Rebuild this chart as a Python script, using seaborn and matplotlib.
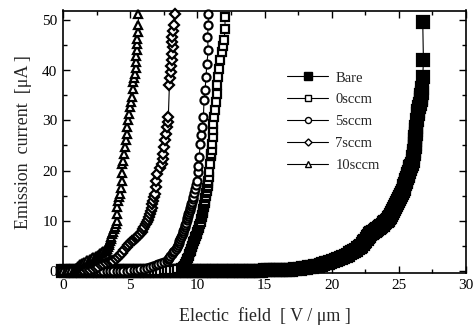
import matplotlib
matplotlib.use("Agg")
import matplotlib.pyplot as plt
from matplotlib.ticker import MultipleLocator
from matplotlib.lines import Line2D
import seaborn as sns
import pandas as pd

# ---- data ----
bare_x = [0, 0.25, 0.5, 0.75, 1, 1.25, 1.5, 1.75, 2, 2.25, 2.5, 2.75, 3, 3.25, 3.5, 3.75,
          4, 4.25, 4.5, 4.75, 5, 5.25, 5.5, 5.75, 6, 6.25, 6.5, 6.75, 7, 7.25, 7.5, 7.75,
          8, 8.25, 8.5, 8.75, 9, 9.25, 9.5, 9.75, 10, 10.25, 10.5, 10.75, 11, 11.25, 11.5,
          11.75, 12, 12.25, 12.5, 12.75, 13, 13.25, 13.5, 13.75, 14, 14.25, 14.5, 14.75,
          15, 15.25, 15.5, 15.75, 16, 16.25, 16.5, 16.75, 17, 17.3,
          17.65, 17.9, 18.1, 18.3, 18.5, 18.75, 19.0, 19.2, 19.38, 19.55, 19.75, 19.9,
          20.1, 20.3, 20.5, 20.7, 20.87, 21.05, 21.2, 21.35, 21.5, 21.65, 21.8, 21.95,
          22.11, 22.2, 22.3, 22.4, 22.5, 22.6, 22.7, 22.78, 22.86, 22.93, 23.0, 23.1, 23.2,
          23.3, 23.4, 23.5, 23.6, 23.7, 23.8, 23.9, 24.0, 24.1, 24.2, 24.28, 24.35, 24.42,
          24.5, 24.58, 24.65, 24.72, 24.8, 24.88, 24.97, 25.03, 25.1, 25.15, 25.2, 25.28,
          25.35, 25.41, 25.47, 25.51, 25.55, 25.6, 25.65, 25.7, 25.75, 25.8, 25.84, 25.9,
          25.96, 26.02, 26.08, 26.11, 26.14, 26.17, 26.2, 26.22, 26.24, 26.26, 26.28, 26.3,
          26.33, 26.4, 26.45, 26.52, 26.58, 26.62, 26.65, 26.68, 26.7, 26.75, 26.78,
          26.83, 26.78]
bare_y = [0, 0, 0, 0, 0, 0, 0, 0, 0, 0, 0, 0, 0, 0, 0, 0,
          0, 0, 0, 0, 0, 0, 0, 0, 0, 0, 0, 0, 0, 0, 0, 0,
          0, 0, 0, 0, 0, 0, 0, 0, 0, 0, 0, 0, 0, 0, 0,
          0, 0, 0, 0, 0, 0, 0, 0, 0, 0, 0, 0, 0,
          0.05, 0.05, 0.05, 0.05, 0.1, 0.1, 0.1, 0.15, 0.2, 0.25,
          0.3, 0.45, 0.55, 0.7, 0.8, 0.9, 1.0, 1.15, 1.3, 1.45, 1.6, 1.8,
          2.0, 2.15, 2.3, 2.5, 2.7, 2.95, 3.2, 3.45, 3.7, 3.95, 4.2, 4.45,
          4.7, 5.0, 5.3, 5.65, 6.0, 6.35, 6.7, 7.0, 7.3, 7.45, 7.6, 7.8, 8.0,
          8.15, 8.3, 8.5, 8.7, 8.95, 9.2, 9.45, 9.7, 9.95, 10.2, 10.45, 10.7, 11.1,
          11.5, 11.9, 12.3, 12.7, 13.1, 13.55, 14.0, 14.4, 14.8, 15.2, 15.6, 16.0,
          16.4, 16.85, 17.3, 17.7, 18.1, 18.55, 19.0, 19.4, 19.8, 20.25, 20.7, 21.0,
          21.3, 22.0, 22.6, 23.3, 23.9, 24.6, 25.3, 26.0, 26.6, 27.3, 28.0, 28.7,
          30.0, 31.3, 31.9, 32.6, 33.3, 34.0, 34.5, 35.0, 35.5, 36.5, 38.7,
          42.0, 49.7]

s0_x = [0, 0.25, 0.5, 0.75, 1, 1.25, 1.5, 1.75, 2, 2.25, 2.5, 2.75, 3, 3.25, 3.5, 3.75,
        4, 4.25, 4.5, 4.75, 5, 5.25, 5.5, 5.75, 6, 6.25, 6.5, 6.75, 7, 7.25, 7.5, 7.75,
        8.0, 8.25, 8.5, 8.75, 8.96, 9.03, 9.1, 9.16, 9.21, 9.26, 9.3, 9.35, 9.4, 9.45,
        9.5, 9.54, 9.58, 9.63, 9.67, 9.71, 9.75, 9.8, 9.85, 9.9, 9.95, 10.0, 10.05,
        10.1, 10.15, 10.2, 10.25, 10.29, 10.33, 10.37, 10.4, 10.42, 10.45, 10.48, 10.52,
        10.55, 10.57, 10.6, 10.64, 10.67, 10.7, 10.73, 10.76, 10.79, 10.82, 10.86, 10.9,
        10.95, 11.0, 11.04, 11.07, 11.1, 11.14, 11.17, 11.19, 11.26, 11.32, 11.38,
        11.44, 11.5, 11.57, 11.63, 11.69, 11.82, 11.9, 11.99, 12.06, 12.06]
s0_y = [0, 0, 0, 0, 0, 0, 0, 0, 0, 0, 0, 0, 0, 0, 0, 0,
        0, 0, 0, 0, 0, 0, 0, 0, 0, 0, 0, 0, 0, 0, 0.02, 0.05,
        0.1, 0.2, 0.3, 0.5, 0.7, 1.0, 1.3, 1.65, 2.0, 2.3, 2.6, 2.95, 3.3, 3.65,
        4.0, 4.35, 4.7, 5.0, 5.3, 5.65, 6.0, 6.35, 6.7, 7.0, 7.3, 7.75, 8.2,
        8.6, 9.0, 9.4, 9.8, 10.25, 10.7, 11.1, 11.5, 11.9, 12.3, 12.75, 13.2,
        13.6, 14.0, 14.5, 15.0, 15.5, 16.0, 16.5, 17.0, 17.5, 18.0, 18.8, 19.7,
        21.3, 22.8, 23.4, 24.0, 25.3, 26.7, 28.0, 29.3, 30.7, 32.0, 33.7,
        35.3, 37.0, 38.7, 40.3, 42.0, 43.7, 44.8, 46.0, 48.3, 50.7]

s5_x = [0, 0.25, 0.5, 0.75, 1, 1.25, 1.5, 1.75, 2, 2.25, 2.5, 2.75, 3, 3.25, 3.5, 3.75,
        4, 4.25, 4.5, 4.75, 5, 5.25, 5.5, 5.75, 6.0, 6.25, 6.48, 6.7, 6.9, 7.1, 7.3,
        7.5, 7.72, 7.82, 7.9, 8.0, 8.1, 8.2, 8.3, 8.4, 8.47, 8.54, 8.6, 8.65, 8.7,
        8.77, 8.83, 8.9, 8.96, 9.0, 9.05, 9.1, 9.15, 9.2, 9.25, 9.29, 9.33, 9.38,
        9.42, 9.46, 9.5, 9.55, 9.6, 9.65, 9.7, 9.76, 9.82, 9.88, 9.95, 10.02, 10.08,
        10.15, 10.2, 10.27, 10.33, 10.45, 10.5, 10.57, 10.65, 10.7, 10.82, 10.75,
        10.82, 10.82]
s5_y = [0, 0, 0, 0, 0, 0, 0, 0, 0, 0, 0, 0, 0, 0, 0, 0,
        0, 0, 0, 0, 0.05, 0.1, 0.2, 0.3, 0.4, 0.55, 0.7, 0.95, 1.2, 1.4, 1.6,
        1.8, 2.0, 2.3, 2.6, 2.95, 3.3, 3.65, 4.0, 4.35, 4.7, 5.1, 5.5, 5.9, 6.3,
        6.75, 7.2, 7.6, 8.0, 8.4, 8.8, 9.2, 9.6, 10.05, 10.5, 10.9, 11.3, 11.75,
        12.2, 12.6, 13.0, 13.4, 13.8, 14.25, 14.7, 15.5, 16.3, 17.2, 18.0, 19.6, 21.0,
        22.7, 25.3, 27.0, 28.7, 30.7, 34.0, 36.0, 38.7, 41.3, 44.0, 46.7,
        49.0, 51.3]

s7_x = [0, 0.25, 0.5, 0.75, 1.0, 1.25, 1.5, 1.75, 2.0, 2.26, 2.45, 2.6, 2.8, 3.0, 3.2,
        3.4, 3.6, 3.75, 3.95, 4.1, 4.25, 4.4, 4.55, 4.74, 4.87, 5.0, 5.15, 5.3, 5.4,
        5.5, 5.62, 5.73, 5.85, 5.95, 6.05, 6.15, 6.22, 6.3, 6.4, 6.48, 6.54, 6.6,
        6.66, 6.72, 6.78, 6.85, 6.9, 6.95, 6.98, 7.2, 7.35, 7.41, 7.47, 7.53, 7.6,
        7.66, 7.72, 7.78, 7.84, 7.92, 7.98, 8.04, 8.07, 8.09, 8.13, 8.17, 8.13,
        8.09, 8.18, 8.27, 8.34]
s7_y = [0, 0, 0, 0, 0.02, 0.05, 0.08, 0.12, 0.2, 0.3, 0.55, 0.8, 1.05, 1.3, 1.5,
        1.7, 1.85, 2.0, 2.4, 2.8, 3.2, 3.6, 4.1, 4.7, 5.1, 5.5, 5.85, 6.2, 6.45,
        6.7, 7.0, 7.3, 7.8, 8.3, 8.8, 9.3, 9.75, 10.2, 10.7, 11.3, 11.95, 12.6,
        13.3, 14.0, 14.65, 15.3, 16.6, 18.0, 19.3, 20.5, 21.3, 22.3, 23.3, 24.6, 26.0,
        27.3, 28.7, 29.7, 30.7, 37.0, 38.4, 39.7, 40.8, 42.0, 43.3, 44.7, 45.7,
        46.7, 47.8, 49.0, 51.3]

s10_x = [0, 0.2, 0.4, 0.6, 0.8, 1.0, 1.15, 1.27, 1.45, 1.6, 1.8, 2.0, 2.15, 2.26, 2.45,
         2.6, 2.75, 2.9, 3.0, 3.1, 3.18, 3.25, 3.33, 3.4, 3.45, 3.5, 3.55, 3.6, 3.68,
         3.75, 3.8, 3.85, 3.93, 4.0, 4.02, 4.04, 4.1, 4.17, 4.24, 4.3, 4.37, 4.37,
         4.37, 4.49, 4.55, 4.62, 4.68, 4.74, 4.8, 4.86, 4.92, 4.99, 5.05, 5.12, 5.18,
         5.24, 5.3, 5.36, 5.4, 5.44, 5.47, 5.49, 5.49, 5.49, 5.55, 5.61, 5.61]
s10_y = [0, 0, 0, 0.1, 0.2, 0.5, 0.9, 1.3, 1.6, 1.8, 2.1, 2.3, 2.5, 2.7, 3.0,
         3.2, 3.5, 3.7, 3.85, 4.0, 4.15, 4.3, 4.75, 5.2, 5.6, 6.0, 6.4, 6.8, 7.25,
         7.7, 8.25, 8.8, 9.4, 10.0, 11.3, 12.7, 14.0, 14.65, 15.3, 16.5, 18.0, 19.5,
         21.3, 22.0, 23.3, 24.7, 26.0, 27.3, 28.6, 30.0, 31.3, 32.7, 33.7, 34.7, 36.2,
         37.7, 38.5, 39.3, 40.5, 41.7, 42.8, 44.0, 45.2, 46.3, 47.7, 49.0, 51.3]

labels = ["Bare", "0sccm", "5sccm", "7sccm", "10sccm"]
xticks = [0, 5, 10, 15, 20, 25, 30]
yticks = [0, 10, 20, 30, 40, 50]

series = [(bare_x, bare_y), (s0_x, s0_y), (s5_x, s5_y), (s7_x, s7_y), (s10_x, s10_y)]
frames = []
for lab, (xs, ys) in zip(labels, series):
    frames.append(pd.DataFrame({"x": xs, "y": ys, "series": lab}))
df = pd.concat(frames, ignore_index=True)

# ---- styling ----
sns.set_style("ticks")
plt.rcParams["font.family"] = ["Liberation Serif", "DejaVu Serif"]

fig = plt.figure(figsize=(4.75, 3.31), dpi=100)
ax = fig.add_axes([63 / 475, 1 - 273 / 331, (466 - 63) / 475, (273 - 10.5) / 331])

styles = {
    "Bare":   dict(marker="s", mfc="black", ms=8.0),
    "0sccm":  dict(marker="s", mfc="white", ms=5.5),
    "5sccm":  dict(marker="o", mfc="white", ms=5.8),
    "7sccm":  dict(marker="D", mfc="white", ms=4.8),
    "10sccm": dict(marker="^", mfc="white", ms=5.8),
}

for lab in labels:
    sub = df[df["series"] == lab]
    st = styles[lab]
    sns.lineplot(data=sub, x="x", y="y", ax=ax, sort=False, estimator=None,
                 color="black", lw=0.8, marker=st["marker"], ms=st["ms"],
                 mfc=st["mfc"], mec="black", mew=1.6, clip_on=False, zorder=3)

ax.set_xlim(0, 30)
ax.set_ylim(-0.5, 52)
ax.set_xticks(xticks)
ax.set_yticks(yticks)
ax.xaxis.set_minor_locator(MultipleLocator(2.5))
ax.yaxis.set_minor_locator(MultipleLocator(5))
ax.tick_params(which="both", direction="in", top=True, right=True, width=1.0,
               labelsize=11, colors="black", pad=4)
ax.tick_params(which="major", length=5)
ax.tick_params(which="minor", length=3)
for sp in ax.spines.values():
    sp.set_linewidth(1.2)
    sp.set_color("black")

ax.set_xlabel("Electic  field  [ V / μm ]", fontsize=13, labelpad=11)
ax.set_ylabel("Emission  current  [μA ]", fontsize=13, labelpad=7)

leg_handles = []
for lab in labels:
    st = styles[lab]
    leg_handles.append(Line2D([], [], color="black", lw=0.8, marker=st["marker"],
                              ms=st["ms"] * 0.75, mfc=st["mfc"], mec="black", mew=1.0))
ax.legend(leg_handles, labels, loc="upper left", frameon=False,
          bbox_to_anchor=(280 / 475, 1 - 64 / 331), bbox_transform=fig.transFigure,
          borderpad=0, handlelength=2.8, handletextpad=0.5, labelspacing=0.6,
          fontsize=10.5)

fig.savefig("out.png", dpi=100)
